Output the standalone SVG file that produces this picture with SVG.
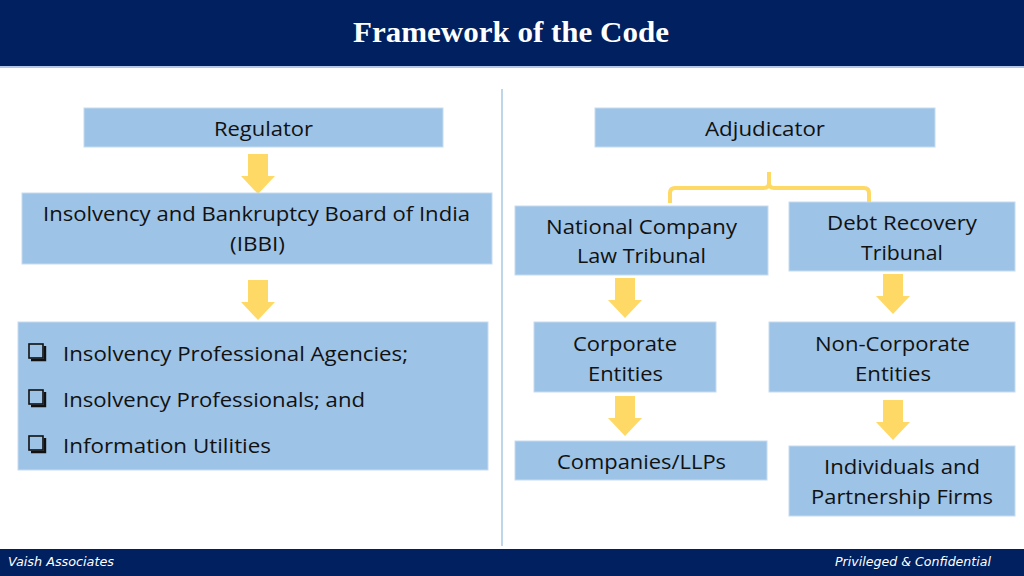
<svg xmlns="http://www.w3.org/2000/svg" width="1024" height="576" viewBox="0 0 1024 576">
<style>
.box{fill:#9DC3E6;stroke:#C5DCF0;stroke-width:1}
.t{font-family:"Open Sans","Noto Sans",sans-serif;font-size:20.5px;fill:#111;text-anchor:middle}
.tl{font-family:"Open Sans","Noto Sans",sans-serif;font-size:20.5px;fill:#111}
.arrow{fill:#FFD966}
.foot{font-family:"DejaVu Sans",sans-serif;font-style:italic;font-size:12px;fill:#fff}
</style>
<defs>
<path id="arr" d="M-10,0 H10 V22 H17 L0,40 L-17,22 H-10 Z"/>
<g id="cb">
<rect x="0" y="0" width="14" height="14" fill="none" stroke="#111" stroke-width="1.6"/>
<path d="M2,16 H16 V2" fill="none" stroke="#111" stroke-width="2.4"/>
</g>
</defs>
<rect width="1024" height="576" fill="#ffffff"/>
<g id="header">
<rect x="0" y="0" width="1024" height="66" fill="#002060"/>
<rect x="0" y="66" width="1024" height="2" fill="#B4C7E7"/>
<text x="511" y="42" font-family="'Liberation Serif',serif" font-weight="bold" font-size="30" fill="#fff" text-anchor="middle" textLength="316" lengthAdjust="spacingAndGlyphs">Framework of the Code</text>
</g>
<g id="divider"><line x1="502" y1="89" x2="502" y2="546" stroke="#A9C8E6" stroke-width="1.5"/></g>
<g id="connectors">
<use href="#arr" class="arrow" transform="translate(258,154)"/>
<use href="#arr" class="arrow" transform="translate(258,280)"/>
<use href="#arr" class="arrow" transform="translate(625,278)"/>
<use href="#arr" class="arrow" transform="translate(893,274)"/>
<use href="#arr" class="arrow" transform="translate(625,396)"/>
<use href="#arr" class="arrow" transform="translate(893,400)"/>
<path d="M670,203 V193 Q670,188 675,188 H764 Q769,188 769,183 V172 M769,183 Q769,188 774,188 H864 Q869,188 869,193 V203" fill="none" stroke="#FFD966" stroke-width="4"/>
</g>
<g id="regulator">
<rect class="box" x="84" y="108" width="359" height="39"/>
<text class="t" x="263.5" y="136" textLength="99" lengthAdjust="spacingAndGlyphs">Regulator</text>
</g>
<g id="adjudicator">
<rect class="box" x="595" y="108" width="340" height="39"/>
<text class="t" x="765" y="136" textLength="120" lengthAdjust="spacingAndGlyphs">Adjudicator</text>
</g>
<g id="ibbi">
<rect class="box" x="22" y="193" width="470" height="71"/>
<text class="t" x="256.5" y="221" textLength="427" lengthAdjust="spacingAndGlyphs">Insolvency and Bankruptcy Board of India</text>
<text class="t" x="257.5" y="251" textLength="55" lengthAdjust="spacingAndGlyphs">(IBBI)</text>
</g>
<g id="nclt">
<rect class="box" x="515" y="206" width="253" height="69"/>
<text class="t" x="641.5" y="234" textLength="191" lengthAdjust="spacingAndGlyphs">National Company</text>
<text class="t" x="641.5" y="263" textLength="129" lengthAdjust="spacingAndGlyphs">Law Tribunal</text>
</g>
<g id="drt">
<rect class="box" x="789" y="202" width="226" height="69"/>
<text class="t" x="902" y="230" textLength="150" lengthAdjust="spacingAndGlyphs">Debt Recovery</text>
<text class="t" x="902" y="260" textLength="82" lengthAdjust="spacingAndGlyphs">Tribunal</text>
</g>
<g id="professionals">
<rect class="box" x="18" y="322" width="470" height="148"/>
<use href="#cb" transform="translate(29,344)"/>
<use href="#cb" transform="translate(29,390)"/>
<use href="#cb" transform="translate(29,436)"/>
<text class="tl" x="63" y="361" textLength="345" lengthAdjust="spacingAndGlyphs">Insolvency Professional Agencies;</text>
<text class="tl" x="63" y="407" textLength="302" lengthAdjust="spacingAndGlyphs">Insolvency Professionals; and</text>
<text class="tl" x="63" y="453" textLength="208" lengthAdjust="spacingAndGlyphs">Information Utilities</text>
</g>
<g id="corporate">
<rect class="box" x="534" y="322" width="182" height="70"/>
<text class="t" x="625" y="351" textLength="104" lengthAdjust="spacingAndGlyphs">Corporate</text>
<text class="t" x="625.5" y="381" textLength="75" lengthAdjust="spacingAndGlyphs">Entities</text>
</g>
<g id="noncorporate">
<rect class="box" x="769" y="322" width="246" height="70"/>
<text class="t" x="892.5" y="351" textLength="155" lengthAdjust="spacingAndGlyphs">Non-Corporate</text>
<text class="t" x="893" y="381" textLength="76" lengthAdjust="spacingAndGlyphs">Entities</text>
</g>
<g id="companies">
<rect class="box" x="515" y="441" width="252" height="39"/>
<text class="t" x="641.5" y="469" textLength="169" lengthAdjust="spacingAndGlyphs">Companies/LLPs</text>
</g>
<g id="individuals">
<rect class="box" x="789" y="446" width="226" height="70"/>
<text class="t" x="902" y="474" textLength="156" lengthAdjust="spacingAndGlyphs">Individuals and</text>
<text class="t" x="902" y="504" textLength="182" lengthAdjust="spacingAndGlyphs">Partnership Firms</text>
</g>
<g id="footer">
<rect x="0" y="549" width="1024" height="27" fill="#002060"/>
<text class="foot" x="8" y="566" textLength="106" lengthAdjust="spacingAndGlyphs">Vaish Associates</text>
<text class="foot" x="991" y="566" text-anchor="end" textLength="156" lengthAdjust="spacingAndGlyphs">Privileged &amp; Confidential</text>
</g>
</svg>
